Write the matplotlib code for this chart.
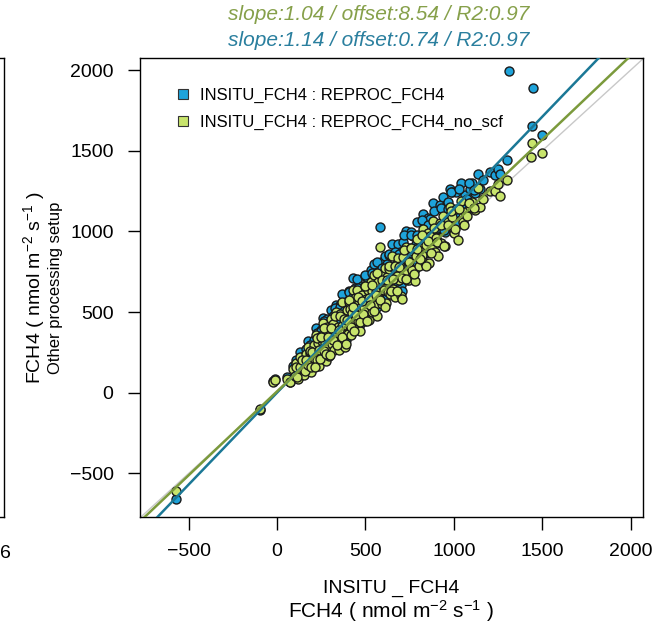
import numpy as np
import matplotlib
matplotlib.use('Agg')
import matplotlib.pyplot as plt
from matplotlib.lines import Line2D

plt.rcParams['font.family'] = ['Liberation Sans', 'DejaVu Sans']
plt.rcParams['mathtext.fontset'] = 'custom'
plt.rcParams['mathtext.rm'] = 'Liberation Sans'
plt.rcParams['mathtext.it'] = 'Liberation Sans:italic'

nan = np.nan

# INSITU_FCH4 (x) against the two reprocessed series (y), nmol m-2 s-1
insitu_fch4 = [
    -572, -96, -23, -10, 57, 74, 88, 100, 110, 118,
    125, 130, 138, 145, 150, 155, 162, 168, 172, 178,
    183, 188, 192, 197, 203, 208, 212, 217, 222, 228,
    232, 237, 242, 247, 252, 256, 261, 266, 271, 275,
    280, 285, 290, 295, 300, 305, 310, 315, 320, 325,
    330, 335, 340, 345, 350, 355, 360, 365, 370, 375,
    380, 385, 390, 395, 400, 405, 410, 415, 420, 425,
    431, 435, 440, 445, 450, 455, 460, 465, 470, 475,
    480, 485, 490, 495, 500, 505, 510, 515, 520, 525,
    530, 535, 540, 545, 550, 555, 560, 565, 570, 575,
    584, 588, 592, 598, 604, 610, 616, 622, 628, 634,
    640, 646, 652, 658, 664, 670, 676, 682, 688, 694,
    700, 708, 714, 720, 727, 734, 741, 748, 755, 762,
    770, 778, 786, 794, 802, 810, 818, 826, 838, 845,
    852, 860, 868, 876, 884, 892, 900, 910, 920, 930,
    940, 952, 960, 969, 978, 991, 1000, 1012, 1025, 1040,
    1054, 1065, 1076, 1090, 1105, 1120, 1139, 1150, 1165, 1207,
    1235, 1252, 1263, 1303, 1310, 1439, 1445, 1448, 1496,
    105, 115, 128, 142, 158, 165, 175, 186, 195, 200,
    215, 226, 235, 244, 250, 263, 268, 278, 288, 298,
    308, 318, 328, 338, 348, 358, 368, 378, 388, 398,
    408, 418, 428, 438, 448, 458, 468, 478, 488, 498,
    508, 518, 528, 538, 548, 558, 568, 580, 595, 608,
    620, 632, 645, 656, 668, 680, 692, 705, 718, 730,
    745, 758, 775, 790, 806, 822, 840, 856, 872, 888,
    905, 925, 945, 965, 985, 1008, 1030, 1060, 1085, 1112]

reproc_fch4 = [
    -658, -106, 72, 86, 100, 68, 168, 107, 205, 92,
    157, 250, 140, 215, 118, 196, 270, 170, 200, 318,
    188, 262, 146, 268, 230, 330, 192, 270, 400, 222,
    348, 186, 285, 392, 260, 358, 466, 242, 335, 220,
    458, 308, 424, 252, 374, 510, 326, 475, 298, 430,
    388, 545, 350, 442, 300, 544, 328, 460, 612, 405,
    504, 318, 466, 560, 406, 628, 452, 578, 386, 550,
    714, 490, 652, 446, 534, 708, 498, 612, 426, 590,
    662, 510, 586, 722, 492, 648, 555, 704, 500, 626,
    760, 556, 688, 634, 796, 600, 694, 530, 748, 650,
    1025, 810, 598, 744, 706, 845, 615, 798, 684, 852,
    670, 782, 925, 714, 846, 660, 800, 922, 764, 870,
    668, 631, 932, 810, 1002, 778, 890, 772, 995, 832,
    974, 768, 925, 1056, 872, 980, 946, 1108, 880, 1015,
    1082, 890, 1075, 972, 1176, 965, 1048, 936, 1162, 1018,
    1212, 998, 1170, 1180, 1260, 1242, 1094, 1244, 1046, 1302,
    1162, 1228, 1202, 1262, 1298, 1240, 1354, 1262, 1320, 1366,
    1350, 1385, 1354, 1440, 1994, nan, 1652, 1888, 1596,
    178, 105, 178, 223, 149, 231, 189, 294, 174, 281,
    184, 368, 293, 225, 384, 284, 447, 259, 383, 252,
    444, 356, 527, 328, 424, 530, 378, 508, 328, 503,
    625, 453, 593, 418, 537, 649, 488, 633, 536, 733,
    481, 650, 594, 741, 555, 675, 812, 633, 772, 581,
    774, 860, 696, 771, 872, 690, 862, 780, 979, 774,
    893, 981, 818, 975, 916, 1071, 869, 1039, 948, 1129,
    1023, 1148, 1008, 1141, 1245, 1116, 1260, 1141, 1300, 1254]

reproc_fch4_no_scf = [
    -609, -100, 68, 80, 88, 65, 145, 103, 183, 86,
    143, 224, 132, 189, 110, 182, 242, 148, 187, 284,
    174, 244, 128, 238, 215, 295, 169, 249, 359, 206,
    310, 165, 265, 350, 241, 320, 430, 215, 310, 194,
    410, 285, 380, 225, 345, 456, 301, 426, 266, 396,
    347, 502, 312, 407, 267, 488, 303, 413, 563, 363,
    464, 284, 419, 514, 364, 565, 415, 520, 355, 495,
    640, 451, 586, 401, 491, 637, 447, 562, 382, 532,
    608, 458, 528, 663, 443, 584, 509, 634, 449, 574,
    685, 500, 630, 570, 730, 541, 626, 476, 686, 586,
    905, 730, 549, 670, 637, 773, 554, 720, 627, 768,
    614, 705, 847, 643, 774, 595, 722, 833, 699, 785,
    601, 584, 841, 742, 905, 702, 814, 696, 899, 761,
    879, 693, 846, 954, 788, 896, 854, 1013, 807, 917,
    990, 803, 971, 890, 1063, 871, 959, 845, 1050, 931,
    1096, 907, 1057, 1060, 1151, 1090, 989, 1136, 945, 1190,
    1056, 1121, 1093, 1150, 1180, 1130, 1267, 1149, 1200, 1248,
    1248, 1292, 1220, 1317, nan, 1460, 1547, nan, 1484,
    158, 98, 157, 206, 133, 205, 175, 262, 161, 252,
    162, 339, 263, 207, 344, 262, 402, 238, 343, 233,
    399, 329, 475, 295, 390, 476, 346, 457, 302, 452,
    573, 408, 534, 384, 484, 595, 440, 571, 491, 661,
    442, 587, 543, 668, 508, 609, 744, 572, 697, 531,
    698, 786, 629, 706, 788, 631, 778, 712, 885, 708,
    808, 897, 739, 890, 827, 978, 787, 939, 865, 1022,
    935, 1040, 911, 1042, 1128, 1017, 1140, 1041, 1177, 1145]

series_labels = ['INSITU_FCH4 : REPROC_FCH4', 'INSITU_FCH4 : REPROC_FCH4_no_scf']
fit_slope = [1.14, 1.04]
fit_offset = [0.74, 8.54]
fit_r2 = [0.97, 0.97]
ticks = [-500, 0, 500, 1000, 1500, 2000]

fill_cols = ['#1ea3da', '#c8e46c']
line_cols = ['#1b7896', '#7b9a3c']
title_cols = ['#2a7f9e', '#86a04a']

fig = plt.figure(figsize=(6.6, 6.25), dpi=100)

# piece of the neighbouring panel cut off at the left edge
ax0 = fig.add_axes([-0.5, 1 - 517 / 625, 0.5 + 4 / 660, 459 / 625])
ax0.set_xticks([])
ax0.set_yticks([])
for sp in ax0.spines.values():
    sp.set_linewidth(1.0)
fig.text(0.0, 1 - 553 / 625, '6', ha='left', va='center', fontsize=14)

ax = fig.add_axes([140 / 660, 1 - 517 / 625, 503 / 660, 459 / 625])
ax.set_xlim(-775, 2070)
ax.set_ylim(-770, 2075)

ax.axline((0, 0), slope=1, color='#c8c8c8', lw=1.0, zorder=1)
ys = [reproc_fch4, reproc_fch4_no_scf]
for i in range(2):
    ax.scatter(insitu_fch4, ys[i], s=42, c=fill_cols[i], edgecolors='#1a1a1a',
               linewidths=1.0, zorder=2 + i)
for i in range(2):
    ax.axline((0, fit_offset[i]), slope=fit_slope[i], color=line_cols[i],
              lw=1.8, zorder=5 + i)

ax.set_xticks(ticks)
ax.set_yticks(ticks)
ax.tick_params(direction='out', length=9, width=1.0, labelsize=14, pad=10)
for sp in ax.spines.values():
    sp.set_linewidth(1.0)

# fit summaries above the panel
for i, yy in zip([1, 0], [14, 40]):
    fig.text(379 / 660, 1 - yy / 625,
             f'slope:{fit_slope[i]:.2f} / offset:{fit_offset[i]:.2f} / R2:{fit_r2[i]:.2f}',
             color=title_cols[i], style='italic', fontsize=15, ha='center', va='center')

handles = [Line2D([], [], marker='s', ls='', markersize=7.5, markerfacecolor=fill_cols[i],
                  markeredgecolor='#333333', markeredgewidth=0.8) for i in range(2)]
ax.legend(handles, series_labels, loc='upper left', bbox_to_anchor=(0.039, 0.968),
          frameon=False, fontsize=12, handletextpad=0.5, labelspacing=0.75,
          handlelength=1.0)

fig.text(391 / 660, 1 - 588 / 625, 'INSITU _ FCH4', fontsize=14, ha='center', va='center')
fig.text(391 / 660, 1 - 611 / 625, r'FCH4 ( nmol m$^{-2}$ s$^{-1}$ )', fontsize=15,
         ha='center', va='center')
fig.text(34 / 660, 1 - 288 / 625, r'FCH4 ( nmol m$^{-2}$ s$^{-1}$ )', fontsize=14,
         ha='center', va='center', rotation=90)
fig.text(56 / 660, 1 - 288 / 625, 'Other processing setup', fontsize=12,
         ha='center', va='center', rotation=90)

fig.savefig('out.png', dpi=100)
